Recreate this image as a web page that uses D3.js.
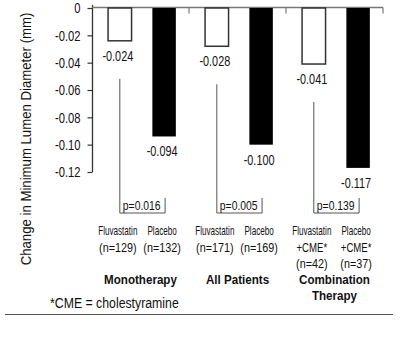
<!DOCTYPE html>
<html>
<head>
<meta charset="utf-8">
<script src="https://cdn.jsdelivr.net/npm/d3@7"></script>
<style>
  body { margin: 0; background: #fff; }
  svg text { font-family: "Liberation Sans", Arial, sans-serif; fill: #111; }
</style>
</head>
<body>
<svg width="400" height="338"></svg>
<script>
// data
const groups = ["Monotherapy", "All Patients", "Combination Therapy"];
const groupLines = [["Monotherapy"], ["All Patients"], ["Combination", "Therapy"]];
const treatments = ["Fluvastatin", "Placebo"];
const fluvaValues = [-0.024, -0.028, -0.041];
const placeboValues = [-0.094, -0.100, -0.117];
const fluvaLabels = [["Fluvastatin", "(n=129)"], ["Fluvastatin", "(n=171)"], ["Fluvastatin", "+CME*", "(n=42)"]];
const placeboLabels = [["Placebo", "(n=132)"], ["Placebo", "(n=169)"], ["Placebo", "+CME*", "(n=37)"]];
const pValues = ["p=0.016", "p=0.005", "p=0.139"];
const yTicks = [0, -0.02, -0.04, -0.06, -0.08, -0.10, -0.12];
const yTickLabels = ["0", "-0.02", "-0.04", "-0.06", "-0.08", "-0.10", "-0.12"];

const svg = d3.select("svg");

// the original uses a condensed face; squeeze Liberation Sans horizontally
function squeeze(sel, k) {
  sel.each(function () {
    const t = d3.select(this);
    const x = +t.attr("x") || 0, y = +t.attr("y") || 0;
    t.attr("x", 0).attr("y", 0)
      .attr("transform", `translate(${x},${y}) scale(${k},1)`);
  });
}

const x0 = d3.scaleBand().domain(groups).range([92, 383]).padding(0);
const x1 = d3.scaleBand().domain(treatments).range([0, x0.bandwidth()])
  .paddingInner(0.47).paddingOuter(0.33).align(0.55);
const y = d3.scaleLinear().domain([0, -0.12]).range([8, 172]);

const data = [];
groups.forEach((g, i) => {
  data.push({group: g, t: "Fluvastatin", value: fluvaValues[i], lines: fluvaLabels[i]});
  data.push({group: g, t: "Placebo", value: placeboValues[i], lines: placeboLabels[i]});
});
const cx = d => x0(d.group) + x1(d.t) + x1.bandwidth() / 2;

// y axis
const yAxis = svg.append("g")
  .attr("transform", "translate(92.5,0)")
  .call(d3.axisLeft(y).tickValues(yTicks).tickSize(5).tickPadding(7)
    .tickFormat((d, i) => yTickLabels[i]));
yAxis.select(".domain").attr("d", "M0,5V172").attr("stroke", "#333").attr("stroke-width", 1.3);
yAxis.selectAll(".tick line").attr("stroke", "#333").attr("stroke-width", 1.2);
yAxis.selectAll("text")
  .style("font-size", "14px")
  .attr("fill", "#111")
  .attr("dy", "0.35em")
  .each(function () {
    const t = d3.select(this);
    t.attr("transform", `translate(${t.attr("x")},0) scale(0.8,1)`).attr("x", 0);
  });

// top (zero) axis with group separators
const topAxis = svg.append("g").attr("transform", "translate(0,7.5)");
topAxis.append("line").attr("x1", 92).attr("x2", 383).attr("stroke", "#777").attr("stroke-width", 1.3);
topAxis.selectAll("line.sep")
  .data(groups)
  .join("line")
  .attr("class", "sep")
  .attr("x1", d => x0(d) + x0.bandwidth()).attr("x2", d => x0(d) + x0.bandwidth())
  .attr("y1", 0).attr("y2", 6)
  .attr("stroke", "#777")
  .attr("stroke-width", 1.2);

// y title (squeezed along its own axis)
svg.append("text")
  .attr("transform", "translate(31,139) rotate(-90) scale(0.88,1)")
  .attr("text-anchor", "middle")
  .style("font-size", "15px")
  .text("Change in Minimum Lumen Diameter (mm)");

// bars
svg.selectAll("rect.bar")
  .data(data)
  .join("rect")
  .attr("class", "bar")
  .attr("x", d => x0(d.group) + x1(d.t))
  .attr("y", y(0))
  .attr("width", x1.bandwidth())
  .attr("height", d => y(d.value) - y(0))
  .attr("fill", d => d.t === "Placebo" ? "#000" : "#fff")
  .attr("stroke", d => d.t === "Placebo" ? "none" : "#333")
  .attr("stroke-width", 1.5);

// value labels
const vals = svg.selectAll("text.val")
  .data(data)
  .join("text")
  .attr("class", "val")
  .attr("x", d => cx(d) - 2)
  .attr("y", d => y(d.value) + 20)
  .attr("text-anchor", "middle")
  .style("font-size", "14.5px")
  .text(d => d.value.toFixed(3));
squeeze(vals, 0.75);

// p-value brackets
const bracketY = 213;
groups.forEach((g, i) => {
  const f = data[i * 2], p = data[i * 2 + 1];
  const xl = cx(f), xr = cx(p) + 1;
  const top = y(f.value) + 38;
  svg.append("path")
    .attr("d", `M${xl},${top}V${bracketY}H${xr}V${bracketY - 15}`)
    .attr("fill", "none")
    .attr("stroke", "#555")
    .attr("stroke-width", 1);
  const pt = svg.append("text")
    .attr("x", xl + 3)
    .attr("y", bracketY - 3)
    .style("font-size", "12.5px")
    .text(pValues[i]);
  squeeze(pt, 0.83);
});

// treatment labels under brackets, one text per line
const subLines = [];
data.forEach(d => d.lines.forEach((s, i) => subLines.push({d, s, i})));
const subs = svg.selectAll("text.sub")
  .data(subLines)
  .join("text")
  .attr("class", "sub")
  .attr("x", o => cx(o.d) - 2)
  .attr("y", o => 235 + o.i * 16.5)
  .attr("text-anchor", "middle")
  .style("font-size", o => o.i === 0 ? "12.5px" : "12px")
  .text(o => o.s);
squeeze(subs.filter(o => o.i === 0), 0.65);
squeeze(subs.filter(o => o.s.startsWith("+")), 0.8);
squeeze(subs.filter(o => o.s.startsWith("(")), 0.9);

// group labels
const grpLines = [];
groups.forEach((g, gi) => groupLines[gi].forEach((s, i) => grpLines.push({g, s, i})));
const grps = svg.selectAll("text.grp")
  .data(grpLines)
  .join("text")
  .attr("class", "grp")
  .attr("x", o => x0(o.g) + x0.bandwidth() / 2)
  .attr("y", o => 284 + o.i * 16)
  .attr("text-anchor", "middle")
  .style("font-size", "13.5px")
  .style("font-weight", "bold")
  .text(o => o.s);
squeeze(grps, 0.86);

// footnote and rule
const foot = svg.append("text")
  .attr("x", 50)
  .attr("y", 308)
  .style("font-size", "15px")
  .text("*CME = cholestyramine");
squeeze(foot, 0.82);

svg.append("line")
  .attr("x1", 5).attr("x2", 393)
  .attr("y1", 314.5).attr("y2", 314.5)
  .attr("stroke", "#555")
  .attr("stroke-width", 1);
</script>
</body>
</html>
